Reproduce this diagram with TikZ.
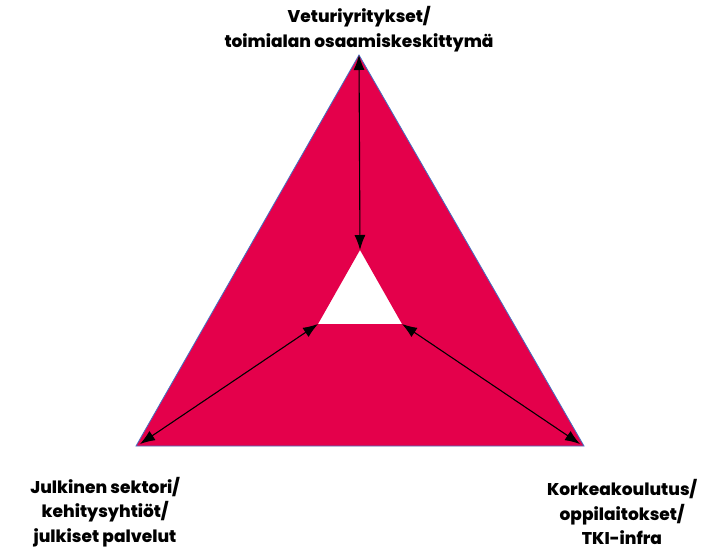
\documentclass[tikz,border=0pt]{standalone}
\usepackage{fontspec}
\setmainfont{Poppins}[BoldFont={Poppins ExtraBold}]
\usetikzlibrary{arrows.meta}
\definecolor{crim}{HTML}{E4004B}
\definecolor{edgeblue}{HTML}{4472C4}
\tikzset{
  lbl/.style={font=\bfseries\fontsize{17}{24.5}\selectfont, align=center, inner sep=0pt},
  dbl/.style={{Latex[length=15pt,width=11pt]}-{Latex[length=15pt,width=11pt]}, line width=1.1pt, black}
}
\begin{document}
\begin{tikzpicture}[x=1pt,y=-1pt]
\useasboundingbox (0,0) rectangle (701,549);
\coordinate (A) at (359,55);
\coordinate (B) at (136,446);
\coordinate (C) at (584,446);
\coordinate (a) at (360,250);
\coordinate (b) at (318,324);
\coordinate (c) at (402,324);
\fill[crim, even odd rule] (A) -- (B) -- (C) -- cycle (a) -- (b) -- (c) -- cycle;
\draw[edgeblue, line width=0.8pt] (A) -- (B) -- (C) -- cycle;
\draw[dbl] (A) -- (a);
\draw[dbl] (140,444) -- (b);
\draw[dbl] (580,444) -- (c);
\node[lbl] (top) at (359,29) {Veturiyritykset/\\toimialan osaamiskeskittymä};
\node[lbl] (left) at (105,512) {Julkinen sektori/\\kehitysyhtiöt/\\julkiset palvelut};
\node[lbl] (right) at (622,512) {Korkeakoulutus/\\oppilaitokset/\\TKI-infra};
\end{tikzpicture}
\end{document}
